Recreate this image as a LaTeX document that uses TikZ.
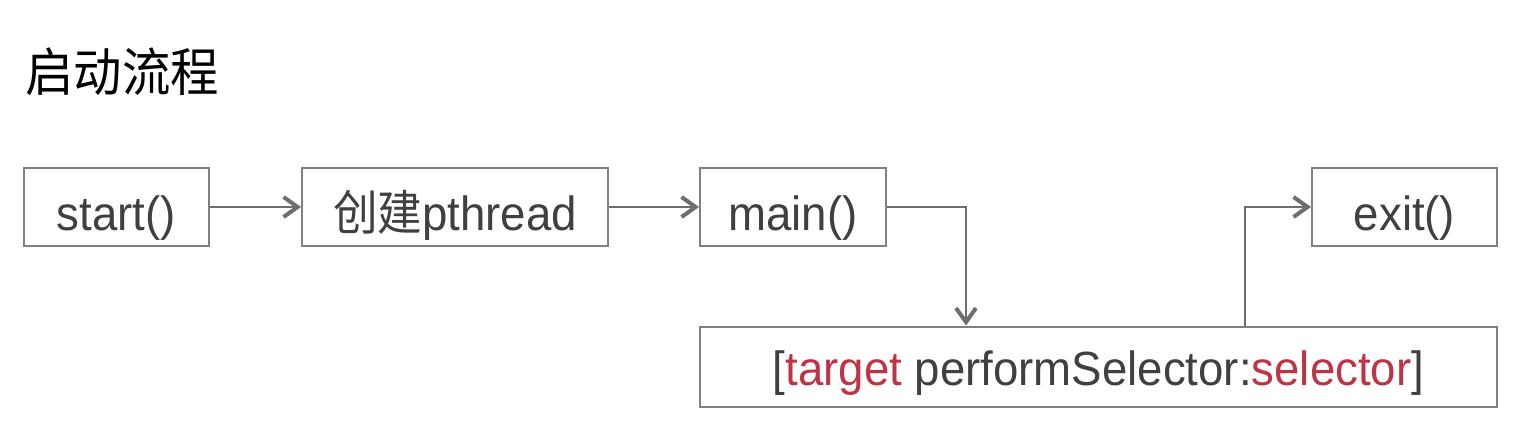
\documentclass[tikz,border=0pt]{standalone}
\usepackage{fontspec}
\usepackage{tikz}
\usetikzlibrary{arrows.meta}
\setmainfont[FakeStretch=0.95]{Liberation Sans}
\newfontfamily\cjk[FakeStretch=0.93]{Noto Sans CJK SC}
\definecolor{boxgray}{RGB}{128,128,128}
\definecolor{linegray}{RGB}{110,110,110}
\definecolor{textgray}{RGB}{64,64,64}
\definecolor{selred}{RGB}{190,52,68}
\tikzstyle{stepbox}=[rectangle, draw=boxgray, line width=1pt, inner sep=0pt, minimum height=39pt, text height=25pt, text depth=2pt, text=textgray, font=\fontsize{24}{28}\selectfont]
\tikzstyle{flow}=[draw=linegray, line width=1pt, -{Straight Barb[length=7pt, width=10pt, line width=2pt]}]

\begin{document}
\begin{tikzpicture}[x=0.5pt, y=-0.5pt]
                    \useasboundingbox (0,0) rectangle (1532,444);
                    \node[anchor=base west, inner sep=0pt, text=black, font=\cjk\fontsize{26}{30}\selectfont] (title) at (25,92) {启动流程};
                    \node[stepbox, minimum width=92.5pt] (start) at (116.5,207) {start()};
                    \node[stepbox, minimum width=153pt] (pthread) at (455,207) {{\cjk 创建}pthread};
                    \node[stepbox, minimum width=93pt] (main) at (793,207) {main()};
                    \node[stepbox, minimum width=92.5pt] (exit) at (1404.5,207) {exit()};
                    \node[stepbox, minimum width=398.5pt, minimum height=40pt, text height=21pt, text depth=2.5pt] (sel) at (1098.5,366.5) {[\textcolor{selred}{target} performSelector:\textcolor{selred}{selector}]};
                    \draw[flow] (start)--(pthread);
                    \draw[flow] (pthread)--(main);
                    \draw[flow] (main.east) -| ([xshift=133.5pt]sel.north west);
                    \draw[flow] ([xshift=273pt]sel.north west) |- (exit.west);
                \end{tikzpicture}
\end{document}
